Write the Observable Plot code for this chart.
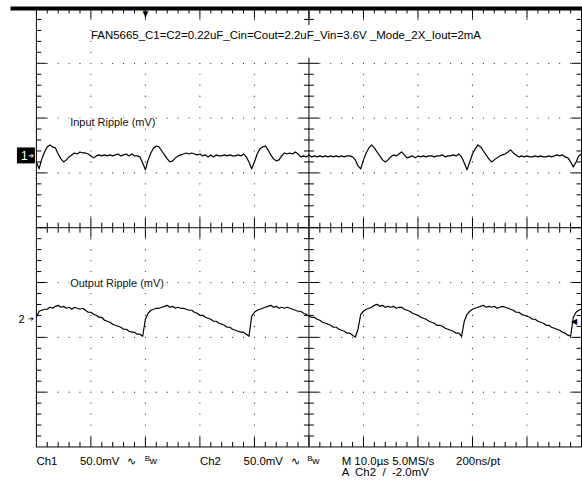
<!DOCTYPE html>
<html><head><meta charset="utf-8">
<script src="https://cdn.jsdelivr.net/npm/d3@7"></script>
<script src="https://cdn.jsdelivr.net/npm/@observablehq/plot@0.6"></script>
<style>
html,body{margin:0;padding:0;background:#fff;overflow:hidden;}
</style></head><body><div id="chart"></div>
<script>
// ---- chart content ----
const title = "FAN5665_C1=C2=0.22uF_Cin=Cout=2.2uF_Vin=3.6V _Mode_2X_Iout=2mA";
const ch1Label = "Input Ripple (mV)";
const ch2Label = "Output Ripple (mV)";
const row1Labels = ["Ch1", "50.0mV", "∿", "Ch2", "50.0mV", "∿", "M 10.0µs 5.0MS/s", "200ns/pt"];
const row2Label = "A  Ch2  /  -2.0mV";
const sampleInterval = 0.5;   // µs per plotted sample
const voltsPerDiv = 50;       // mV/div, both channels
const timePerDiv = 10;        // µs/div
const ch1Position = 1.31;     // divisions above centre
const ch2Position = -1.67;    // divisions (below centre)
const triggerTime = 20;       // µs
const triggerLevel = -2.0;    // mV on Ch2

// Ch1 (input ripple), mV
const ch1mV = [
 -5.5,-11.8,-2.7,3.6,8.2,10.0,8.2,7.3,1.8,-2.7,
 -5.5,-3.6,-0.9,0.9,2.7,1.8,3.6,2.7,2.7,1.8,
 0,-1.8,0,0.9,0,0.9,0,0.9,0,0.9,
 1.8,0,0.9,1.8,0,1.8,0,0,-0.9,-6.4,
 -12.7,-3.6,2.7,7.3,9.1,8.2,4.5,0.9,-2.7,-5.5,
 -4.5,-1.8,0,0.9,1.8,2.7,1.8,2.7,1.8,0.9,
 1.8,0,0.9,-0.9,0.9,-0.9,0.9,0,0,0.9,
 0,0.9,0,0,0.9,0,1.8,-0.9,-5.5,-11.8,
 -5.5,1.8,6.4,8.2,9.1,5.5,0.9,-2.7,-4.5,-3.6,
 0,2.7,1.8,2.7,1.8,3.6,1.8,-0.9,0,-0.9,
 0.9,-0.9,0,-0.9,0,-0.9,0,-0.9,0,-0.9,
 0,-0.9,0,-0.9,0,0,-0.9,-3.6,-9.1,-11.8,
 -3.6,2.7,7.3,10.0,7.3,3.6,0,-3.6,-5.5,-3.6,
 -0.9,0.9,0,1.8,3.6,0.9,-1.8,-0.9,0,-1.8,
 0,-0.9,0,-0.9,0,0,-0.9,0,0,0.9,
 -0.9,0,0,0.9,0,1.8,-0.9,-6.4,-12.7,-5.5,
 1.8,6.4,10.0,8.2,4.5,0.9,-2.7,-5.5,-3.6,-1.8,
 0,0.9,1.8,3.6,5.5,2.7,0.9,-0.9,0,-0.9,
 0,-0.9,-0.9,0,-0.9,0,-0.9,-0.9,0,-0.9,
 0,0.9,0,0.9,-0.9,-1.8,-5.5,-10.0,-5.5,0,
 1.8
];
// Ch2 (output ripple), mV
const ch2mV = [
 1.8,7.3,8.2,9.1,9.1,10.9,10.0,11.8,12.7,10.9,
 11.8,10.0,10.9,9.1,10.9,10.0,9.1,10.0,8.2,6.4,
 6.4,4.5,3.6,1.8,1.8,-0.9,-1.8,-2.7,-4.5,-5.5,
 -6.4,-7.3,-9.1,-9.1,-10.9,-11.8,-11.8,-13.6,-13.6,-15.5,
 0,5.5,8.2,9.1,10.0,10.0,10.9,11.8,12.7,10.9,
 11.8,10.0,10.9,10.0,10.0,9.1,8.2,8.2,6.4,5.5,
 3.6,3.6,1.8,0.9,0,-1.8,-1.8,-3.6,-4.5,-5.5,
 -7.3,-7.3,-9.1,-10.0,-10.9,-11.8,-11.8,-13.6,-15.5,2.7,
 6.4,8.2,9.1,10.0,10.9,11.8,12.7,10.9,11.8,10.0,
 10.9,10.0,10.9,10.0,9.1,8.2,7.3,7.3,5.5,4.5,
 2.7,1.8,1.8,0,-0.9,-2.7,-3.6,-4.5,-5.5,-7.3,
 -7.3,-9.1,-10.0,-10.9,-12.7,-12.7,-14.5,-16.4,-9.1,4.5,
 7.3,9.1,10.0,10.9,12.7,13.6,11.8,12.7,10.9,11.8,
 10.9,11.8,10.0,10.9,10.9,9.1,8.2,7.3,5.5,4.5,
 3.6,1.8,0.9,0,-1.8,-2.7,-3.6,-5.5,-5.5,-6.4,
 -8.2,-9.1,-10.0,-10.9,-12.7,-12.7,-15.5,-1.8,4.5,7.3,
 9.1,10.0,10.9,11.8,12.7,10.9,11.8,10.9,11.8,10.0,
 10.9,11.8,10.9,10.0,9.1,8.2,6.4,6.4,4.5,3.6,
 2.7,1.8,0,0,-1.8,-2.7,-3.6,-5.5,-5.5,-7.3,
 -8.2,-9.1,-10.0,-11.8,-12.7,-14.5,-15.5,1.8,6.4,8.2,
 9.1
];

// ---- build ----
const W = 584, H = 483, mL = 36, mR = 1, mT = 8, mB = 35;
const xDomain = [0, 10 * timePerDiv];
const xpx = (W - mL - mR) / (xDomain[1] - xDomain[0]); // px per µs
const ypx = (H - mT - mB) / 8;                          // px per div
const dx = p => p / xpx, dy = p => p / ypx;

const trace = (arr, pos) => arr.map((v, i) => ({t: i * sampleInterval, y: pos + v / voltsPerDiv}));
const t1 = trace(ch1mV, ch1Position);
const t2 = trace(ch2mV, ch2Position);

const minorX = d3.range(1, 50).map(k => k * timePerDiv / 5);
const minorY = d3.range(1, 40).map(k => -4 + k * 0.2);
const isMajX = x => Math.abs(x / timePerDiv - Math.round(x / timePerDiv)) < 1e-6;
const isMajY = y => Math.abs(y - Math.round(y)) < 1e-6;
const segs = [];
for (const x of minorX) {
  const L = isMajX(x) ? 10 : 5;
  segs.push({x1: x, y1: 4, x2: x, y2: 4 - dy(L)});
  segs.push({x1: x, y1: -4, x2: x, y2: -4 + dy(L)});
  segs.push({x1: x, y1: -dy(L), x2: x, y2: dy(L)});
}
for (const y of minorY) {
  const L = isMajY(y) ? 10 : 5;
  segs.push({x1: 0, y1: y, x2: dx(L), y2: y});
  segs.push({x1: 100, y1: y, x2: 100 - dx(L), y2: y});
  segs.push({x1: 50 - dx(L), y1: y, x2: 50 + dx(L), y2: y});
}
const dots = [];
for (const gx of [10, 20, 30, 40, 60, 70, 80, 90]) for (const y of minorY) dots.push({x: gx, y});
for (const gy of [-3, -2, -1, 1, 2, 3]) for (const x of minorX) if (!isMajX(x)) dots.push({x, y: gy});

const font = "'Liberation Sans', Arial, sans-serif";
const rowY1 = -4 - dy(14), rowY2 = -4 - dy(25);
const row1X = [0, 8, 16.6, 30, 38, 46.7, 56, 77];

const chart = Plot.plot({
  width: W, height: H,
  marginLeft: mL, marginRight: mR, marginTop: mT, marginBottom: mB,
  x: {domain: xDomain, axis: null},
  y: {domain: [-4, 4], axis: null},
  style: {fontFamily: font, fontSize: "11px", background: "#fff", overflow: "visible"},
  marks: [
    Plot.dot(dots, {x: "x", y: "y", r: 0.6, fill: "#222", stroke: null}),
    Plot.frame({stroke: "#000"}),
    Plot.ruleX([50], {stroke: "#000"}),
    Plot.ruleY([0], {stroke: "#000"}),
    Plot.link(segs, {x1: "x1", y1: "y1", x2: "x2", y2: "y2", stroke: "#000", strokeWidth: 1}),
    Plot.link([{a: -dx(26), b: 100 + dx(2)}], {x1: "a", x2: "b", y1: 4, y2: 4, stroke: "#000", strokeWidth: 4}),
    // trigger position marker
    Plot.text([triggerTime], {x: d => d, y: 4, text: () => "▼", dy: 5, fontSize: 10, fill: "#000"}),
    // title on its own opaque annotation box
    Plot.rect([title], {x1: 10 + dx(1.5), x2: 100 - dx(8), y1: 4 - dy(17), y2: 4 - dy(50), fill: "#fff"}),
    Plot.text([title], {x: 10, y: 4 - dy(27), text: d => d, textAnchor: "start", fontSize: 11.5, fill: "#000"}),
    Plot.text([ch1Label], {x: 6.2, y: ch1Position + dy(34), text: d => d, textAnchor: "start", fontSize: 11, fill: "#111", stroke: "#fff", strokeWidth: 3}),
    Plot.text([ch2Label], {x: 6.2, y: ch2Position + dy(36), text: d => d, textAnchor: "start", fontSize: 11, fill: "#111", stroke: "#fff", strokeWidth: 3}),
    // traces
    Plot.line(t1, {x: "t", y: "y", stroke: "#000", strokeWidth: 1.2}),
    Plot.line(t2, {x: "t", y: "y", stroke: "#000", strokeWidth: 1.2}),
    // channel ground markers
    Plot.rect([ch1Position], {x1: -dx(19), x2: -dx(1), y1: d => d - dy(8), y2: d => d + dy(8), fill: "#000", insetLeft: 0, insetRight: 0}),
    Plot.text([ch1Position], {x: -dx(12), y: d => d, text: () => "1", fill: "#fff", fontSize: 12}),
    Plot.text([ch1Position], {x: -dx(5), y: d => d, text: () => "➔", fill: "#fff", fontSize: 7}),
    Plot.text([ch2Position], {x: -dx(15), y: d => d, text: () => "2", fill: "#000", fontSize: 11}),
    Plot.text([ch2Position], {x: -dx(5), y: d => d, text: () => "➔", fill: "#000", fontSize: 7}),
    // trigger level marker
    Plot.text([ch2Position + triggerLevel / voltsPerDiv], {x: 100 - dx(8), y: d => d, text: () => "◀", fill: "#000", fontSize: 8}),
    // bottom readout
    Plot.text(row1Labels, {x: (d, i) => row1X[i], y: rowY1, text: d => d, textAnchor: "start", fontSize: 11.5, fill: "#000"}),
    Plot.text(["B", "B"], {x: (d, i) => [19.9, 49.7][i], y: rowY1, text: d => d, textAnchor: "start", fontSize: 8, dy: -2, fill: "#000"}),
    Plot.text(["w", "w"], {x: (d, i) => [19.9, 49.7][i], y: rowY1, text: d => d, textAnchor: "start", fontSize: 10, dx: 5, fill: "#000"}),
    Plot.text([row2Label], {x: 56, y: rowY2, text: d => d, textAnchor: "start", fontSize: 11.5, fill: "#000"})
  ]
});
document.getElementById("chart").appendChild(chart);
</script>
</body></html>
